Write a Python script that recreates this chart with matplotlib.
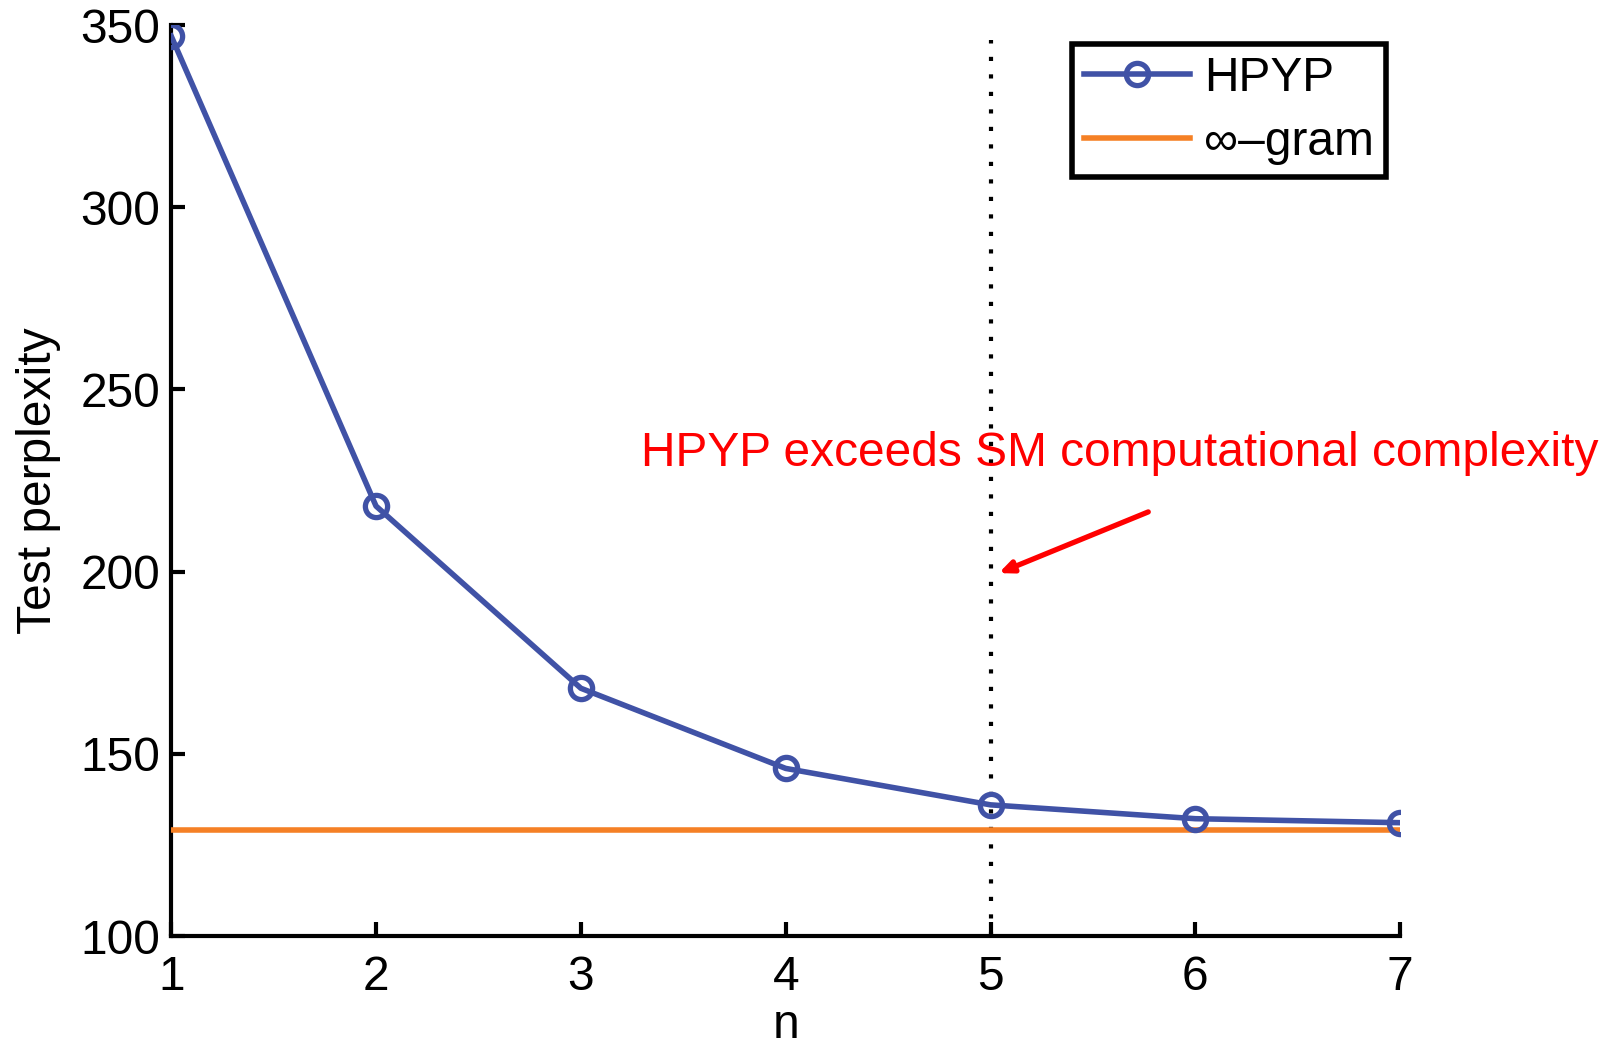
import matplotlib
matplotlib.use("Agg")
import matplotlib.pyplot as plt

n_values = [1, 2, 3, 4, 5, 6, 7]
hpyp_perplexity = [347, 218, 168, 146, 136, 132.2, 131.1]
infgram_perplexity = 129.1
cutoff_n = 5
cutoff_top = 346
x_ticks = [1, 2, 3, 4, 5, 6, 7]
y_ticks = [100, 150, 200, 250, 300, 350]
annotation_text = "HPYP exceeds SM computational complexity"

plt.rcParams['font.family'] = ['Liberation Sans', 'DejaVu Sans']

fig = plt.figure(figsize=(16.15, 10.47), dpi=100)
ax = fig.add_axes([0.106, 0.106, 0.761, 0.870])

blue = '#4052A6'
orange = '#F58025'
fs = 34.5

ax.plot(n_values, hpyp_perplexity, color=blue, lw=4, marker='o', ms=16,
        mfc='none', mec=blue, mew=3.8, label='HPYP', zorder=4)
ax.plot([n_values[0], n_values[-1]], [infgram_perplexity, infgram_perplexity],
        color=orange, lw=4, label='∞–gram', zorder=3)
ax.plot([cutoff_n, cutoff_n], [y_ticks[0], cutoff_top], color='black', lw=3,
        ls=(0, (1, 3.2)), zorder=2)

ax.set_xlim(1, 7)
ax.set_ylim(100, 350)
ax.set_xticks(x_ticks)
ax.set_yticks(y_ticks)
ax.tick_params(direction='in', length=10, width=3, labelsize=fs)
ax.tick_params(axis='x', pad=14)
ax.tick_params(axis='y', pad=8)
for s in ['top', 'right']:
    ax.spines[s].set_visible(False)
for s in ['left', 'bottom']:
    ax.spines[s].set_linewidth(3)
ax.set_xlabel('n', fontsize=fs, labelpad=2)
ax.set_ylabel('Test perplexity', fontsize=fs, labelpad=14)

ax.text(3.295, 232.5, annotation_text, color='red', fontsize=fs,
        ha='left', va='center')
ax.annotate('', xy=(5.04, 199.6), xytext=(5.77, 216.4),
            arrowprops=dict(arrowstyle='-|>,head_length=0.8,head_width=0.35',
                            color='red', lw=3.8, shrinkA=0, shrinkB=0))

leg = ax.legend(loc='upper right', bbox_to_anchor=(1.0, 0.995), fontsize=fs,
                frameon=True, fancybox=False, edgecolor='black', framealpha=1,
                handlelength=2.2, borderpad=0.25, labelspacing=0.4,
                handletextpad=0.3, borderaxespad=0.3)
leg.get_frame().set_linewidth(4)

fig.savefig('out.png', dpi=100)
